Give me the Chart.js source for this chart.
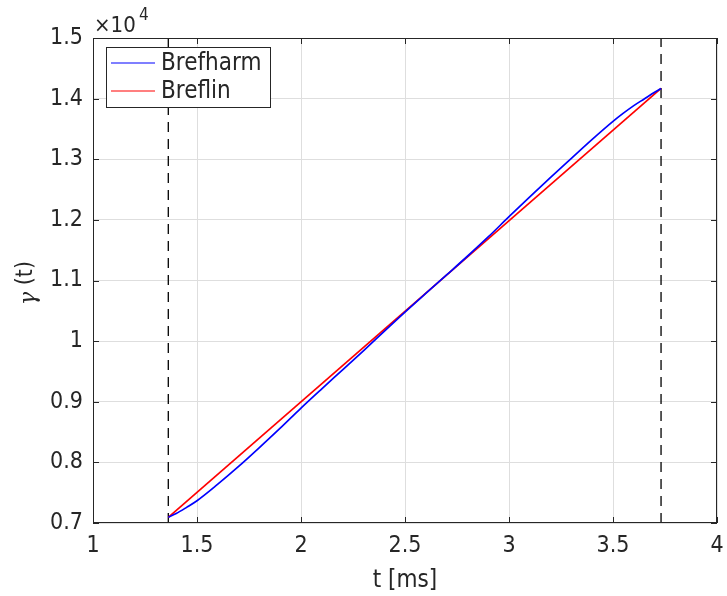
<!DOCTYPE html>
<html>
<head>
<meta charset="utf-8">
<script src="https://cdn.jsdelivr.net/npm/chart.js@4.4.1/dist/chart.umd.min.js"></script>
<style>
    html, body { margin: 0; padding: 0; background: #fff; }
    #wrap { width: 727px; height: 596px; position: relative; }
</style>
</head>
<body>
<div id="wrap"><canvas id="gammaChart"></canvas></div>
<script>
// --- Data ---
const tHarm = [1.362, 1.40, 1.45, 1.5, 1.6, 1.7, 1.8, 1.9, 2.0, 2.1, 2.2, 2.3, 2.4, 2.5,
               2.6, 2.7, 2.8, 2.9, 3.0, 3.1, 3.2, 3.3, 3.4, 3.5, 3.55, 3.6, 3.65, 3.7, 3.731];
const gammaHarm = [7094, 7156, 7258, 7367, 7640, 7933, 8244, 8564, 8896, 9214, 9527, 9841, 10160, 10478,
                   10786, 11092, 11400, 11718, 12052, 12378, 12700, 13015, 13328, 13625, 13760, 13885, 13995, 14105, 14168];
const tLin = [1.362, 3.731];
const gammaLin = [7094, 14168];
const markerT = [1.362, 3.731];
const yRange = [7000, 15000];
const seriesNames = ['Brefharm', 'Breflin'];
const seriesColors = ['#0000ff', '#ff0000'];

const pts = (xs, ys) => xs.map((x, i) => ({ x: x, y: ys[i] }));
const FONT = "'DejaVu Sans Condensed', 'DejaVu Sans', sans-serif";
const INK = '#262626';

// Box, inner ticks, legend, axis titles and exponent label
const decorPlugin = {
    id: 'decor',
    afterDraw(chart) {
        const ctx = chart.ctx;
        const a = chart.chartArea;
        const xs = chart.scales.x, ys = chart.scales.y;
        ctx.save();
        ctx.strokeStyle = INK;
        ctx.lineWidth = 1;
        ctx.strokeRect(a.left + 0.5, a.top + 0.5, a.right - a.left - 1, a.bottom - a.top - 1);

        // inner tick marks
        ctx.beginPath();
        xs.ticks.forEach(t => {
            const px = Math.round(xs.getPixelForValue(t.value)) + 0.5;
            ctx.moveTo(px, a.bottom); ctx.lineTo(px, a.bottom - 6);
            ctx.moveTo(px, a.top); ctx.lineTo(px, a.top + 6);
        });
        ys.ticks.forEach(t => {
            const py = Math.round(ys.getPixelForValue(t.value)) + 0.5;
            ctx.moveTo(a.left, py); ctx.lineTo(a.left + 6, py);
            ctx.moveTo(a.right, py); ctx.lineTo(a.right - 6, py);
        });
        ctx.stroke();

        // legend
        const lx = 106, ly = 47, lw = 164, lh = 60;
        ctx.fillStyle = '#fff';
        ctx.fillRect(lx, ly, lw, lh);
        ctx.strokeStyle = INK;
        ctx.strokeRect(lx + 0.5, ly + 0.5, lw, lh);
        ctx.font = '24px ' + FONT;
        ctx.textBaseline = 'middle';
        seriesNames.forEach((name, i) => {
            const yy = ly + 16 + i * 28;
            ctx.strokeStyle = seriesColors[i];
            ctx.lineWidth = 1.2;
            ctx.beginPath();
            ctx.moveTo(111, yy); ctx.lineTo(155, yy);
            ctx.stroke();
            ctx.fillStyle = INK;
            ctx.fillText(name, 161, yy + 1);
        });

        // x title
        ctx.fillStyle = INK;
        ctx.font = '24px ' + FONT;
        ctx.textAlign = 'center';
        ctx.textBaseline = 'middle';
        ctx.fillText('t [ms]', (a.left + a.right) / 2, 581);

        // y title
        ctx.save();
        ctx.translate(26, 283);
        ctx.rotate(-Math.PI / 2);
        const g = 'γ';
        const rest = ' (t)';
        ctx.font = 'italic 22px DejaVu Serif';
        const gw = ctx.measureText(g).width;
        ctx.font = '23px ' + FONT;
        const rw = ctx.measureText(rest).width;
        ctx.textAlign = 'left';
        ctx.font = 'italic 22px DejaVu Serif';
        ctx.fillText(g, -(gw + rw) / 2, 3);
        ctx.font = '23px ' + FONT;
        ctx.fillText(rest, -(gw + rw) / 2 + gw, 0);
        ctx.restore();

        // exponent
        ctx.textAlign = 'left';
        ctx.font = '22px ' + FONT;
        ctx.fillText('×10', 94, 26);
        ctx.font = '17px ' + FONT;
        ctx.fillText('4', 139, 16);
        ctx.restore();
    }
};

new Chart(document.getElementById('gammaChart'), {
    type: 'line',
    data: {
        datasets: [
            {
                label: seriesNames[0],
                data: pts(tHarm, gammaHarm),
                borderColor: seriesColors[0],
                borderWidth: 1.7,
                pointRadius: 0,
                cubicInterpolationMode: 'monotone'
            },
            {
                label: seriesNames[1],
                data: pts(tLin, gammaLin),
                borderColor: seriesColors[1],
                borderWidth: 1.7,
                pointRadius: 0
            },
            {
                label: 'start',
                data: pts([markerT[0], markerT[0]], yRange),
                borderColor: '#000',
                borderWidth: 1.3,
                borderDash: [10, 7],
                pointRadius: 0
            },
            {
                label: 'end',
                data: pts([markerT[1], markerT[1]], yRange),
                borderColor: '#000',
                borderWidth: 1.3,
                borderDash: [10, 7],
                pointRadius: 0
            }
        ]
    },
    options: {
        responsive: true,
        maintainAspectRatio: false,
        animation: false,
        layout: { padding: { top: 38, right: 10, left: 0, bottom: 0 } },
        plugins: {
            legend: { display: false },
            tooltip: { enabled: false }
        },
        scales: {
            x: {
                type: 'linear',
                min: 1,
                max: 4,
                afterFit: s => { s.height = 73; s.paddingLeft = 0; s.paddingRight = 0; },
                ticks: {
                    stepSize: 0.5,
                    color: INK,
                    font: { family: FONT, size: 23 },
                    padding: 9,
                    maxRotation: 0,
                    callback: v => String(+v.toFixed(1))
                },
                grid: { color: '#dedede', drawTicks: false },
                border: { display: false }
            },
            y: {
                type: 'linear',
                min: yRange[0],
                max: yRange[1],
                afterFit: s => { s.width = 93; s.paddingTop = 0; s.paddingBottom = 0; },
                ticks: {
                    stepSize: 1000,
                    color: INK,
                    font: { family: FONT, size: 23 },
                    padding: 10,
                    callback: v => String(+(v / 1e4).toFixed(1))
                },
                grid: { color: '#dedede', drawTicks: false },
                border: { display: false }
            }
        }
    },
    plugins: [decorPlugin]
});
</script>
</body>
</html>
